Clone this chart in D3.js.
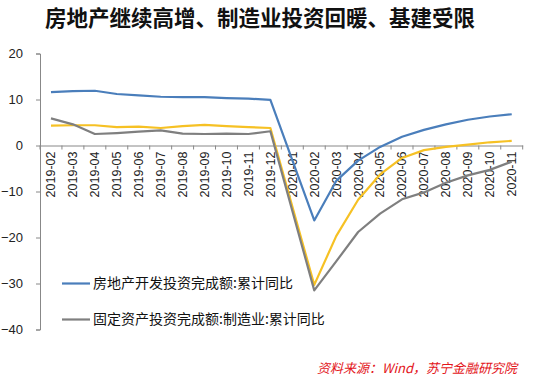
<!DOCTYPE html>
<html>
<head>
<meta charset="utf-8">
<script src="https://cdn.jsdelivr.net/npm/d3@7/dist/d3.min.js"></script>
<style>
  body { margin: 0; background: #fff; }
  svg { display: block; }
</style>
</head>
<body>
<svg id="chart" width="535" height="377"></svg>
<script>
// categories (months)
const months = ['2019-02','2019-03','2019-04','2019-05','2019-06','2019-07','2019-08','2019-09','2019-10','2019-11','2019-12',
  '2020-01','2020-02','2020-03','2020-04','2020-05','2020-06','2020-07','2020-08','2020-09','2020-10','2020-11'];

// cumulative yoy, %; null = no January release
const realEstate = [11.6, 11.8, 11.9, 11.2, 10.9, 10.6, 10.5, 10.5, 10.3, 10.2, 9.9,
  null, -16.3, -7.7, -3.3, -0.3, 1.9, 3.4, 4.6, 5.6, 6.3, 6.8];
const manufacturing = [5.9, 4.6, 2.5, 2.7, 3.0, 3.3, 2.6, 2.5, 2.6, 2.5, 3.1,
  null, -31.5, -25.2, -18.8, -14.8, -11.7, -10.2, -8.1, -6.5, -5.3, -3.5];
const infrastructure = [4.3, 4.4, 4.4, 4.0, 4.1, 3.8, 4.2, 4.5, 4.2, 4.0, 3.8,
  null, -30.3, -19.7, -11.8, -6.3, -2.7, -1.0, -0.3, 0.2, 0.7, 1.0];

const yTicks = [20, 10, 0, -10, -20, -30, -40];

const series = [
  { name: '房地产开发投资完成额:累计同比', values: realEstate, color: '#4a7ebb', legend: true },
  { name: '基建投资:累计同比', values: infrastructure, color: '#f6c124', legend: false },
  { name: '固定资产投资完成额:制造业:累计同比', values: manufacturing, color: '#7f7f7f', legend: true }
];

const svg = d3.select('#chart');
const cjk = '"Noto Sans CJK SC", "Noto Sans", sans-serif';

// Title
svg.append('text')
  .attr('x', 260).attr('y', 25.5)
  .attr('text-anchor', 'middle')
  .style('font-family', cjk)
  .style('font-size', '21.5px')
  .style('font-weight', 'bold')
  .style('fill', '#111')
  .text('房地产继续高增、制造业投资回暖、基建受限');

// Scales
const x = d3.scaleBand().domain(months).range([40, 522.7]);
const y = d3.scaleLinear().domain([-40, 20]).range([329.5, 53.5]);

// Y axis
const yAxis = svg.append('g')
  .attr('transform', 'translate(40,0)')
  .call(d3.axisLeft(y).tickValues(yTicks).tickSize(4).tickPadding(13).tickFormat(d3.format('d')));
yAxis.select('.domain').attr('stroke', '#888');
yAxis.selectAll('.tick line').attr('stroke', '#888');
yAxis.selectAll('text')
  .style('font-family', '"Liberation Sans", Arial, sans-serif')
  .style('font-size', '13px')
  .style('fill', '#222');

// X axis at zero
const xAxis = svg.append('g')
  .attr('transform', `translate(0,${y(0)})`)
  .call(d3.axisBottom(x).tickSize(0).tickSizeOuter(0));
xAxis.select('.domain').attr('stroke', '#888');
xAxis.selectAll('.tick line').remove();
xAxis.selectAll('.tick text')
  .attr('transform', 'rotate(-90)')
  .attr('x', -6).attr('y', 0).attr('dy', '0.35em')
  .attr('text-anchor', 'end')
  .style('font-family', '"Liberation Sans", Arial, sans-serif')
  .style('font-size', '12.5px')
  .style('fill', '#222');

// tick marks at category boundaries
const bounds = months.map(m => x(m)).concat([x.range()[1]]);
svg.append('g').selectAll('line')
  .data(bounds)
  .join('line')
  .attr('x1', d => d).attr('x2', d => d)
  .attr('y1', y(0)).attr('y2', y(0) + 4)
  .attr('stroke', '#888');

// Lines (connect across missing January)
const line = d3.line()
  .x(d => x(d.m) + x.bandwidth() / 2)
  .y(d => y(d.v));

svg.append('g').selectAll('path')
  .data(series)
  .join('path')
  .attr('d', s => line(months.map((m, i) => ({ m, v: s.values[i] })).filter(d => d.v !== null)))
  .attr('fill', 'none')
  .attr('stroke', s => s.color)
  .attr('stroke-width', 2.2)
  .attr('stroke-linejoin', 'round');

// Legend
const legend = svg.append('g')
  .selectAll('g')
  .data(series.filter(s => s.legend))
  .join('g')
  .attr('transform', (d, i) => `translate(62,${283.5 + i * 36})`);
legend.append('line')
  .attr('x1', 0).attr('x2', 28)
  .attr('stroke', d => d.color)
  .attr('stroke-width', 2.2);
legend.append('text')
  .attr('x', 31).attr('y', 0).attr('dy', '0.35em')
  .style('font-family', cjk)
  .style('font-size', '14px')
  .style('fill', '#111')
  .text(d => d.name);

// Source note
svg.append('text')
  .attr('x', 517).attr('y', 373)
  .attr('text-anchor', 'end')
  .style('font-family', cjk)
  .style('font-size', '13px')
  .style('font-style', 'italic')
  .style('fill', '#e3151a')
  .text('资料来源：Wind，苏宁金融研究院');
</script>
</body>
</html>
